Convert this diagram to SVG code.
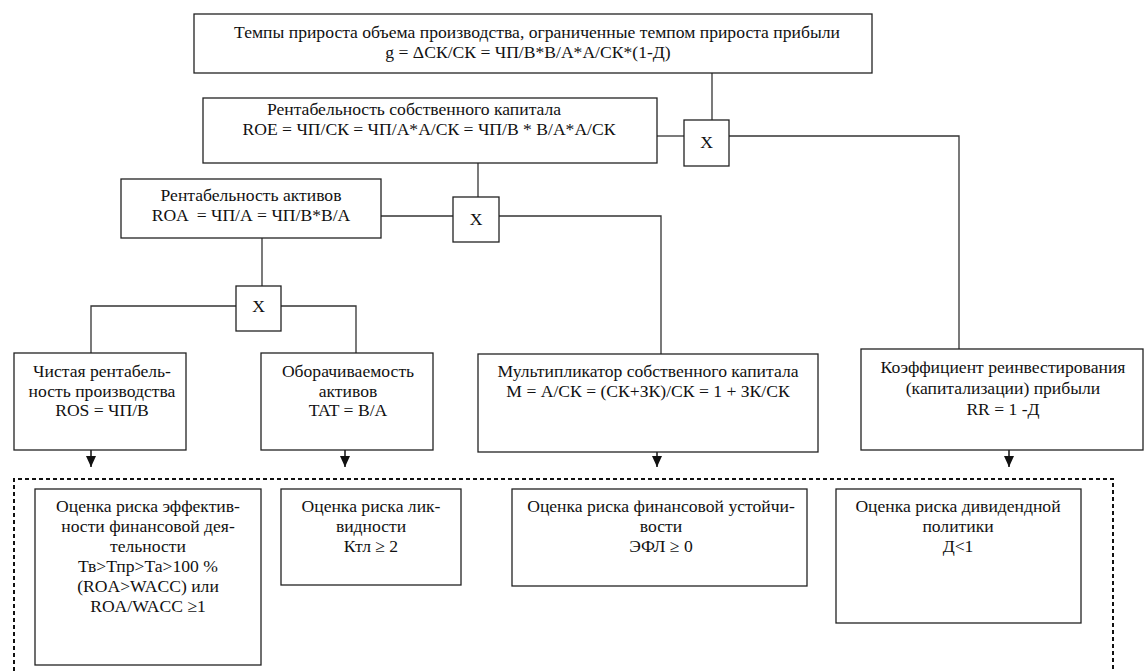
<svg xmlns="http://www.w3.org/2000/svg" width="1145" height="671" viewBox="0 0 1145 671">
<style>
.box{fill:#fff;stroke:#222;stroke-width:1.3}
.t{font-family:'Liberation Serif','Tinos','Times New Roman','DejaVu Serif',serif;font-size:17.6px;fill:#111;text-anchor:middle}
.c{fill:none;stroke:#333;stroke-width:1.3}
.a{fill:none;stroke:#111;stroke-width:1.5}
.frame{fill:none;stroke:#111;stroke-width:2;stroke-dasharray:4 3}
</style>
<defs>
<marker id="ad" markerUnits="userSpaceOnUse" markerWidth="10" markerHeight="11" refX="5" refY="11" viewBox="0 0 10 11" orient="0">
<path d="M0,0 L10,0 L5,11 Z" fill="#111"/>
</marker>
</defs>
<rect width="1145" height="671" fill="#fff"/>
<g id="connectors">
<path class="c" d="M712,73 V120"/>
<path class="c" d="M657,136 H684"/>
<path class="c" d="M729,136 H959 V349"/>
<path class="c" d="M478,163 V197"/>
<path class="c" d="M381,216 H453"/>
<path class="c" d="M499,216 H661 V354"/>
<path class="c" d="M262,238 V286"/>
<path class="c" d="M236,306 H91 V353"/>
<path class="c" d="M281,306 H356 V353"/>
<path class="a" d="M91,450 V467" marker-end="url(#ad)"/>
<path class="a" d="M345,450 V467" marker-end="url(#ad)"/>
<path class="a" d="M657,452 V467" marker-end="url(#ad)"/>
<path class="a" d="M1009,450 V467" marker-end="url(#ad)"/>
</g>
<g id="risk-frame">
<path class="frame" d="M14,671 V479 H1113 V671"/>
</g>
<g id="growth">
<rect class="box" x="194" y="14" width="678" height="59"/>
<text class="t" x="537" y="38">Темпы прироста объема производства, ограниченные темпом прироста прибыли</text>
<text class="t" x="528" y="58">g = ΔСК/СК = ЧП/В*В/А*А/СК*(1-Д)</text>
</g>
<g id="roe">
<rect class="box" x="203" y="98" width="454" height="65"/>
<text class="t" x="414" y="115">Рентабельность собственного капитала</text>
<text class="t" x="429" y="135">ROE = ЧП/СК = ЧП/А*А/СК = ЧП/В * В/А*А/СК</text>
</g>
<g id="x1">
<rect class="box" x="684" y="120" width="45" height="46"/>
<text class="t" x="706.5" y="148">X</text>
</g>
<g id="roa">
<rect class="box" x="121" y="179" width="260" height="59"/>
<text class="t" x="251" y="201">Рентабельность активов</text>
<text class="t" x="251" y="221" xml:space="preserve">ROA  = ЧП/А = ЧП/В*В/А</text>
</g>
<g id="x2">
<rect class="box" x="453" y="197" width="46" height="45"/>
<text class="t" x="476" y="225">X</text>
</g>
<g id="x3">
<rect class="box" x="236" y="286" width="45" height="45"/>
<text class="t" x="258.5" y="312">X</text>
</g>
<g id="ros">
<rect class="box" x="14" y="353" width="172" height="97"/>
<text class="t" x="102" y="377">Чистая рентабель-</text>
<text class="t" x="102" y="397">ность производства</text>
<text class="t" x="102" y="416">ROS = ЧП/В</text>
</g>
<g id="tat">
<rect class="box" x="261" y="353" width="172" height="97"/>
<text class="t" x="348" y="377">Оборачиваемость</text>
<text class="t" x="348" y="397">активов</text>
<text class="t" x="348" y="416">TAT = В/А</text>
</g>
<g id="multiplier">
<rect class="box" x="478" y="354" width="340" height="98"/>
<text class="t" x="648" y="377">Мультипликатор собственного капитала</text>
<text class="t" x="648" y="397">M = А/СК = (СК+ЗК)/СК = 1 + ЗК/СК</text>
</g>
<g id="rr">
<rect class="box" x="861" y="349" width="282" height="101"/>
<text class="t" x="1003" y="373">Коэффициент реинвестирования</text>
<text class="t" x="1003" y="394">(капитализации) прибыли</text>
<text class="t" x="1003" y="415">RR = 1 -Д</text>
</g>
<g id="risk-efficiency">
<rect class="box" x="35" y="489" width="226" height="176"/>
<text class="t" x="148" y="512">Оценка риска эффектив-</text>
<text class="t" x="148" y="532">ности финансовой дея-</text>
<text class="t" x="148" y="552">тельности</text>
<text class="t" x="148" y="572">Тв&gt;Тпр&gt;Та&gt;100 %</text>
<text class="t" x="148" y="592">(ROA&gt;WACC) или</text>
<text class="t" x="148" y="612">ROA/WACC ≥1</text>
</g>
<g id="risk-liquidity">
<rect class="box" x="281" y="489" width="180" height="96"/>
<text class="t" x="371" y="512">Оценка риска лик-</text>
<text class="t" x="371" y="532">видности</text>
<text class="t" x="371" y="552">Ктл ≥ 2</text>
</g>
<g id="risk-stability">
<rect class="box" x="512" y="489" width="295" height="97"/>
<text class="t" x="661" y="512">Оценка риска финансовой устойчи-</text>
<text class="t" x="661" y="532">вости</text>
<text class="t" x="661" y="552">ЭФЛ ≥ 0</text>
</g>
<g id="risk-dividend">
<rect class="box" x="836" y="489" width="245" height="134"/>
<text class="t" x="958" y="512">Оценка риска дивидендной</text>
<text class="t" x="958" y="532">политики</text>
<text class="t" x="958" y="552">Д&lt;1</text>
</g>
</svg>
